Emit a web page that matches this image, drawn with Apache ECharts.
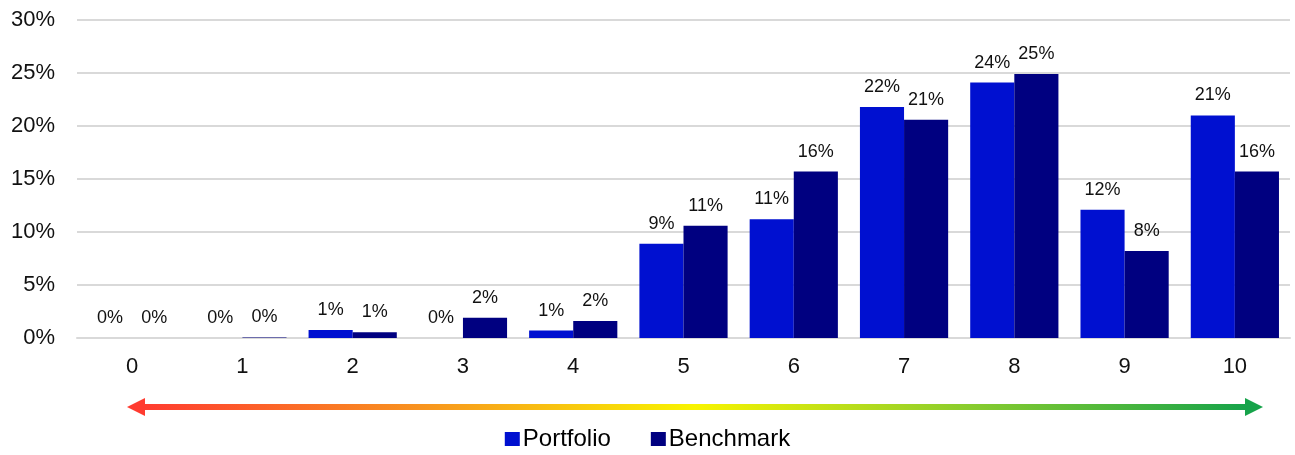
<!DOCTYPE html>
<html>
<head>
<meta charset="utf-8">
<script src="https://cdn.jsdelivr.net/npm/echarts@6/dist/echarts.min.js"></script>
<style>
html,body{margin:0;padding:0;background:#fff;}
#chart{width:1295px;height:455px;}
</style>
</head>
<body>
<div id="chart"></div>
<script>
const categories = ['0','1','2','3','4','5','6','7','8','9','10'];
const portfolio = [0, 0, 0.75, 0, 0.7, 8.9, 11.2, 21.8, 24.1, 12.1, 21.0];
const benchmark = [0, 0.05, 0.55, 1.9, 1.6, 10.6, 15.7, 20.6, 24.9, 8.2, 15.7];
const yTicks = [0, 5, 10, 15, 20, 25, 30];

const chart = echarts.init(document.getElementById('chart'));
const font = 'Liberation Sans, Arial, sans-serif';
const labelCfg = {
  show: true, position: 'top', distance: 11,
  fontFamily: font, fontSize: 18, color: '#111',
  formatter: p => Math.round(p.value) + '%'
};
chart.setOption({
  animation: false,
  textStyle: { fontFamily: font },
  grid: { left: 77, right: 5, top: 20, bottom: 117 },
  legend: {
    bottom: -1, left: 'center',
    icon: 'rect', itemWidth: 15, itemHeight: 14, itemGap: 40,
    textStyle: { fontFamily: font, fontSize: 24, color: '#000', padding: [0, 0, 0, -2] },
    data: ['Portfolio', 'Benchmark']
  },
  xAxis: {
    type: 'category', data: categories,
    axisLine: { lineStyle: { color: '#d9d9d9', width: 2 } },
    axisTick: { show: false },
    axisLabel: { fontFamily: font, fontSize: 22, color: '#111', margin: 18 }
  },
  yAxis: {
    type: 'value', min: 0, max: 30, interval: 5,
    axisLine: { show: false }, axisTick: { show: false },
    splitLine: { lineStyle: { color: '#d9d9d9', width: 2 } },
    axisLabel: { fontFamily: font, fontSize: 22, color: '#111', margin: 22,
      formatter: v => yTicks.includes(v) ? v + '%' : '' }
  },
  series: [
    { name: 'Portfolio', type: 'bar', data: portfolio, barGap: '0%', barCategoryGap: '20%',
      itemStyle: { color: '#0010D0' }, label: labelCfg },
    { name: 'Benchmark', type: 'bar', data: benchmark,
      itemStyle: { color: '#000080' }, label: labelCfg }
  ],
  graphic: [
    { type: 'rect', shape: { x: 143, y: 404, width: 1104, height: 6 },
      style: { fill: new echarts.graphic.LinearGradient(0, 0, 1, 0, [
        { offset: 0, color: '#ff3b30' },
        { offset: 0.25, color: '#f8931f' },
        { offset: 0.5, color: '#f8f400' },
        { offset: 0.75, color: '#88cc2e' },
        { offset: 1, color: '#16a34a' }
      ]) } },
    { type: 'polygon', shape: { points: [[127, 407], [145, 398], [145, 416]] },
      style: { fill: '#ff3b30' } },
    { type: 'polygon', shape: { points: [[1263, 407], [1245, 398], [1245, 416]] },
      style: { fill: '#16a34a' } }
  ]
});
</script>
</body>
</html>
